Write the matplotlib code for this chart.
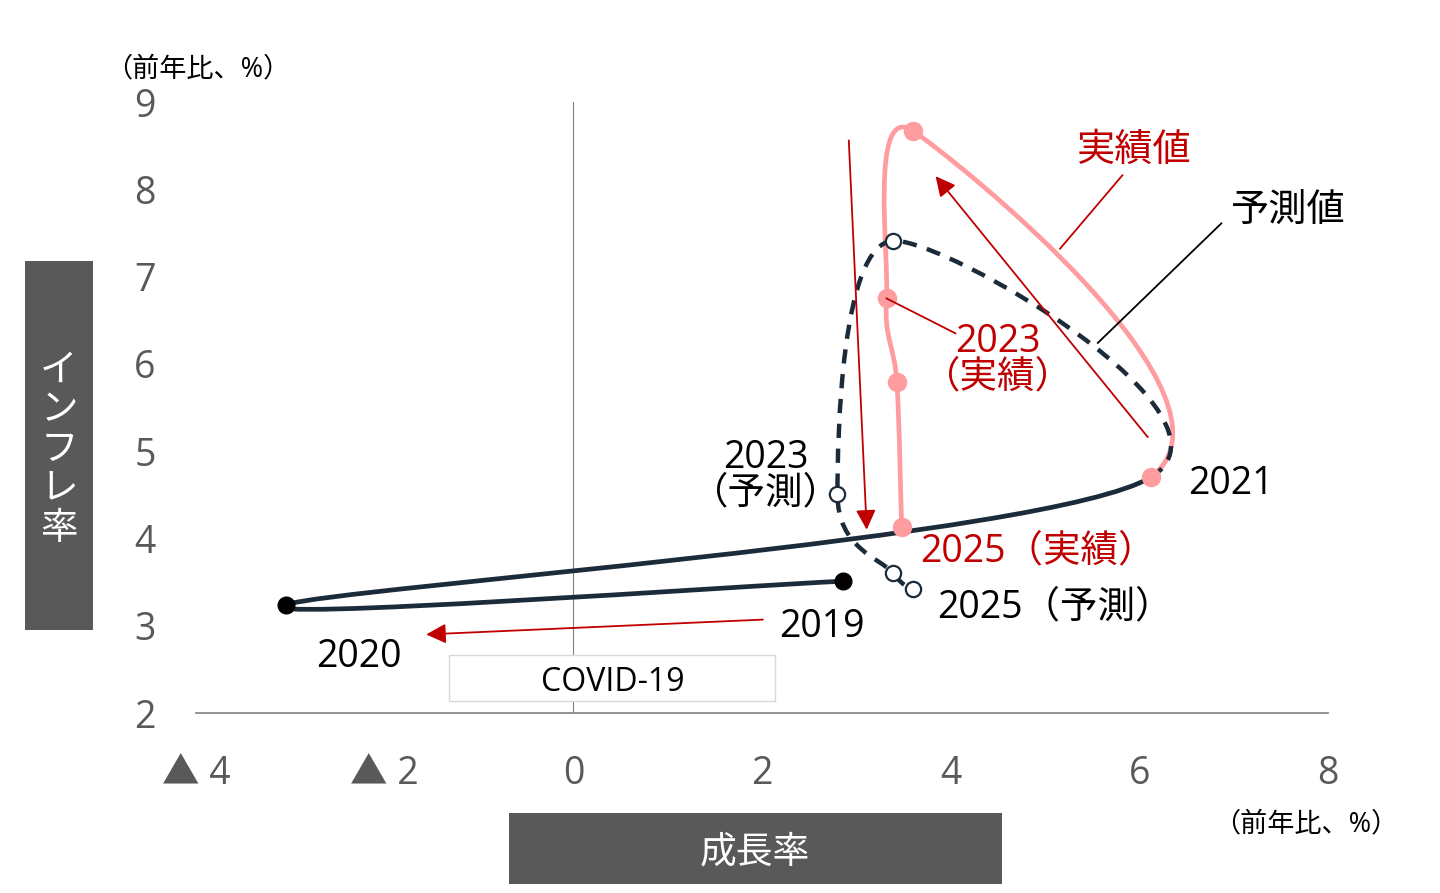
import numpy as np
import matplotlib.pyplot as plt
from matplotlib.path import Path
from matplotlib.patches import PathPatch, Rectangle

plt.rcParams['font.family'] = ['Open Sans', 'Noto Sans CJK JP', 'DejaVu Sans']

# 実績値 (2019-2025)
years_act = [2019, 2020, 2021, 2022, 2023, 2024, 2025]
growth_act = [2.86, -3.05, 6.12, 3.60, 3.32, 3.43, 3.48]
infl_act = [3.51, 3.24, 4.70, 8.67, 6.75, 5.79, 4.13]

# 予測値 (2021-2025)
years_fc = [2021, 2022, 2023, 2024, 2025]
growth_fc = [6.12, 3.39, 2.80, 3.39, 3.60]
infl_fc = [4.70, 7.41, 4.51, 3.60, 3.42]

xticks = [-4, -2, 0, 2, 4, 6, 8]
xticklabels = ['▲ 4', '▲ 2', '0', '2', '4', '6', '8']
yticks = [2, 3, 4, 5, 6, 7, 8, 9]

c_dark = '#1c2b39'
c_pink = '#ff9ca0'
c_red = '#c00000'
c_gray = '#595959'


def smooth_path(xs, ys, pre=None, post=None):
    # Excel風の平滑線（Catmull-Rom → ベジェ）
    pts = np.column_stack([xs, ys]).astype(float)
    first = np.array(pre, float) if pre is not None else pts[0]
    last = np.array(post, float) if post is not None else pts[-1]
    ext = np.vstack([first, pts, last])
    verts = [pts[0]]
    codes = [Path.MOVETO]
    for i in range(len(pts) - 1):
        p0, p1, p2, p3 = ext[i], ext[i + 1], ext[i + 2], ext[i + 3]
        c1 = p1 + (p2 - p0) / 6
        c2 = p2 - (p3 - p1) / 6
        verts += [c1, c2, p2]
        codes += [Path.CURVE4] * 3
    return Path(verts, codes)


fig = plt.figure(figsize=(14.4, 8.93), dpi=100)
ax = fig.add_axes([196 / 1440, 1 - 713 / 893, (1328 - 196) / 1440, (713 - 102) / 893])
ax.set_xlim(-4, 8)
ax.set_ylim(2, 9)
for s in ['top', 'right', 'left']:
    ax.spines[s].set_visible(False)
ax.spines['bottom'].set_color('#808080')
ax.spines['bottom'].set_linewidth(1.2)
ax.set_xticks(xticks, xticklabels)
ax.set_yticks(yticks, [str(v) for v in yticks])
ax.tick_params(axis='x', length=0, pad=30, labelsize=27, labelcolor=c_gray)
ax.tick_params(axis='y', length=0, pad=29, labelsize=27, labelcolor=c_gray)
ax.axvline(0, color='#808080', lw=0.8, zorder=1)

# 実績（2019-2021）濃紺線
p_dark = smooth_path(growth_act[:3], infl_act[:3], post=(growth_fc[1], infl_fc[1]))
ax.add_patch(PathPatch(p_dark, fc='none', ec=c_dark, lw=3.4, zorder=3, capstyle='round'))
# 実績（2021-2025）ピンク線
p_pink = smooth_path(growth_act[2:], infl_act[2:], pre=(growth_act[1], infl_act[1]))
ax.add_patch(PathPatch(p_pink, fc='none', ec=c_pink, lw=3.4, zorder=4, capstyle='round'))
# 予測 破線
p_fc = smooth_path(growth_fc, infl_fc, pre=(growth_act[1], infl_act[1]))
ax.add_patch(PathPatch(p_fc, fc='none', ec=c_dark, lw=3.2, ls=(0, (3.2, 2.4)), zorder=5))

ax.plot(growth_act[:2], infl_act[:2], 'o', color='black', ms=12, zorder=6)
ax.plot(growth_fc[1:], infl_fc[1:], 'o', mfc='white', mec=c_dark, mew=1.6, ms=11, zorder=6)
ax.plot(growth_act[2:], infl_act[2:], 'o', color=c_pink, ms=13, zorder=7)

# 矢印
arr = dict(arrowstyle='-|>', color=c_red, lw=1.3, mutation_scale=30, shrinkA=0, shrinkB=0)
ax.annotate('', xy=(3.11, 4.10), xytext=(2.92, 8.56), arrowprops=arr, zorder=8)
ax.annotate('', xy=(3.84, 8.15), xytext=(6.09, 5.16), arrowprops=arr, zorder=8)
ax.annotate('', xy=(-1.56, 2.90), xytext=(2.01, 3.07), arrowprops=arr, zorder=8)

# 引き出し線
ax.plot([5.82, 5.16], [8.16, 7.32], color=c_red, lw=1.3, zorder=8)
ax.plot([6.87, 5.56], [7.61, 6.24], color='black', lw=1.3, zorder=8)
ax.plot([4.05, 3.32], [6.35, 6.75], color=c_red, lw=1.3, zorder=8)

# ラベル
fs = 27
ax.text(5.94, 8.44, '実績値', color=c_red, fontsize=27.5, ha='center', va='center')
ax.text(7.58, 7.74, '予測値', color='black', fontsize=27.5, ha='center', va='center')
ax.text(4.50, 6.05, '2023\n（実績）', color=c_red, fontsize=fs, ha='center', va='center',
        linespacing=0.92)
ax.text(2.04, 4.72, '2023\n（予測）', color='black', fontsize=fs, ha='center', va='center',
        linespacing=0.92)
ax.text(6.52, 4.62, '2021', fontsize=fs, ha='left', va='center')
ax.text(3.68, 3.85, '2025（実績）', color=c_red, fontsize=fs, ha='left', va='center')
ax.text(3.86, 3.21, '2025（予測）', fontsize=fs, ha='left', va='center')
ax.text(2.18, 2.98, '2019', fontsize=fs, ha='left', va='center')
ax.text(-2.73, 2.64, '2020', fontsize=fs, ha='left', va='center')

ax.add_patch(Rectangle((-1.315, 2.137), 3.457, 0.527, fc='white', ec='#d9d9d9', lw=1, zorder=2))
ax.text(0.414, 2.35, 'COVID-19', fontsize=23, ha='center', va='center', zorder=3)

# 単位
fig.text(105 / 1440, 1 - 69 / 893, '（前年比、%）', fontsize=19.5, ha='left', va='center')
fig.text(1213 / 1440, 1 - 824 / 893, '（前年比、%）', fontsize=19.5, ha='left', va='center')

# 軸タイトル（灰色ボックス）
fig.patches.append(Rectangle((25 / 1440, 1 - 630 / 893), 68 / 1440, 369 / 893,
                             transform=fig.transFigure, fc=c_gray, ec='none'))
fig.text(59 / 1440, 1 - 450 / 893, 'イ\nン\nフ\nレ\n率', color='white', fontsize=27,
         ha='center', va='center', linespacing=1.05)
fig.patches.append(Rectangle((509 / 1440, 1 - 884 / 893), 493 / 1440, 71 / 893,
                             transform=fig.transFigure, fc=c_gray, ec='none'))
fig.text(755 / 1440, 1 - 853 / 893, '成長率', color='white', fontsize=26.5, ha='center', va='center')

fig.savefig('out.png', dpi=100)
